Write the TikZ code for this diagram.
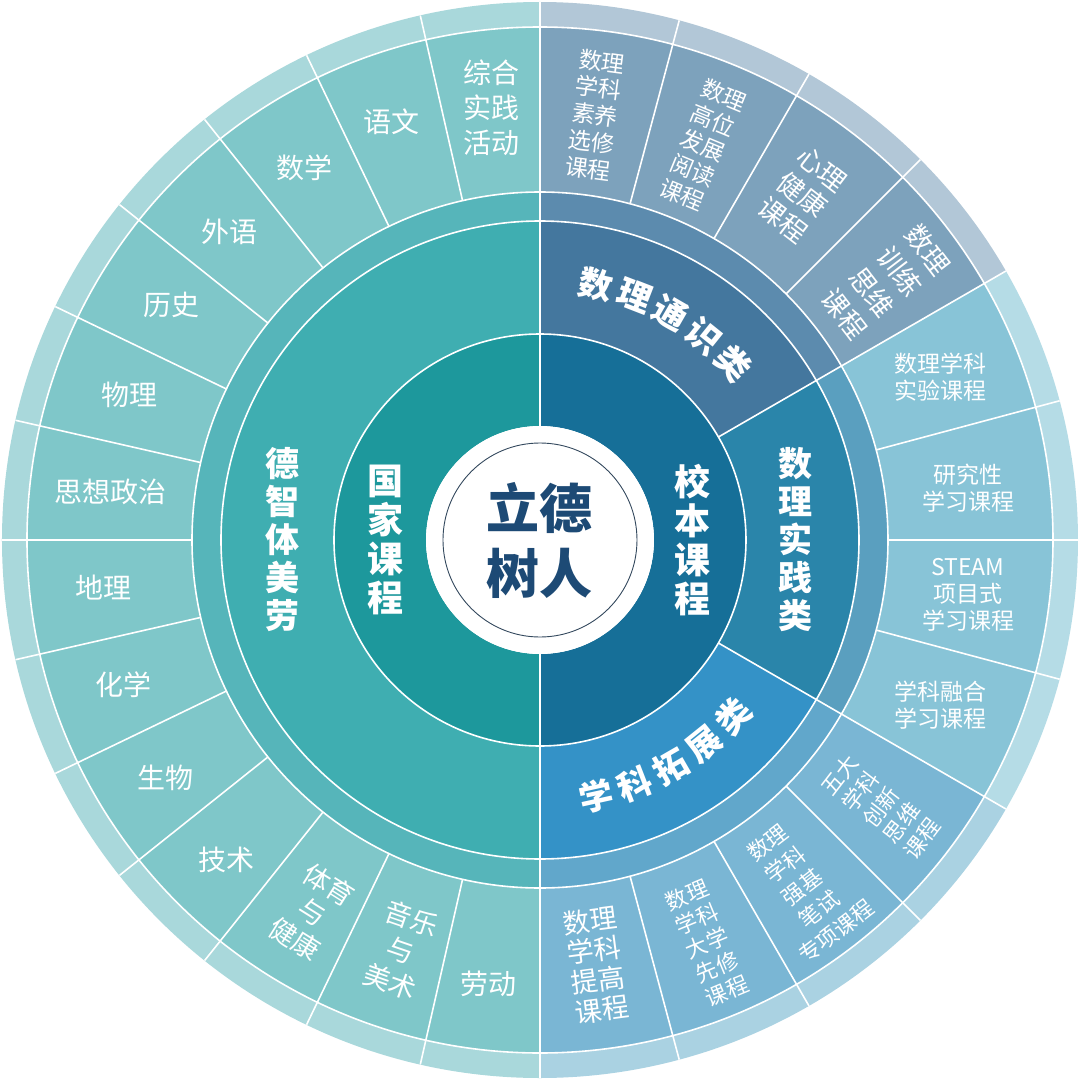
\documentclass[tikz,border=0pt]{standalone}
\usepackage{fontspec}
\setmainfont{Noto Sans CJK SC}
\definecolor{Lband}{HTML}{A9D8DB}
\definecolor{Lsub}{HTML}{7FC7C9}
\definecolor{Lthin}{HTML}{56B5BA}
\definecolor{Lsec}{HTML}{3FAEB1}
\definecolor{Lin}{HTML}{1D989C}
\definecolor{Tband}{HTML}{B2C7D7}
\definecolor{Tsub}{HTML}{7DA2BC}
\definecolor{Tthin}{HTML}{5C8BAE}
\definecolor{Tsec}{HTML}{44779E}
\definecolor{Pband}{HTML}{B5DCE6}
\definecolor{Psub}{HTML}{88C4D7}
\definecolor{Pthin}{HTML}{5A9FBF}
\definecolor{Psec}{HTML}{2A85AA}
\definecolor{Eband}{HTML}{AAD2E2}
\definecolor{Esub}{HTML}{7AB6D4}
\definecolor{Ethin}{HTML}{61A7CB}
\definecolor{Esec}{HTML}{3492C7}
\definecolor{Rin}{HTML}{166F98}
\definecolor{navy}{HTML}{1D4A75}
\definecolor{ringline}{HTML}{34495E}
\newcommand{\ringseg}[5]{\fill[#5] (#3:#1pt) arc[start angle=#3, end angle=#4, radius=#1pt] -- (#4:#2pt) arc[start angle=#4, end angle=#3, radius=#2pt] -- cycle;}
\begin{document}
\begin{tikzpicture}[x=1pt,y=1pt,
  sep/.style={draw=white, line width=1.6pt},
  lab/.style={text=white, inner sep=0pt, align=center, font=\fontsize{28}{35}\selectfont},
  labs/.style={text=white, inner sep=0pt, align=center, font=\fontsize{23}{27}\selectfont},
  big/.style={text=white, inner sep=0pt, align=center, font=\fontsize{34}{38}\selectfont\bfseries},
  arcch/.style={text=white, inner sep=0pt, font=\fontsize{34}{38}\selectfont\bfseries}]
\useasboundingbox (-540,-540) rectangle (540,540);
\fill[white] (-540,-540) rectangle (540,540);
% left half
\ringseg{513}{538}{90}{270}{Lband}
\ringseg{348}{513}{90}{270}{Lsub}
\ringseg{319}{348}{90}{270}{Lthin}
\ringseg{206}{319}{90}{270}{Lsec}
\ringseg{114}{206}{90}{270}{Lin}
% right: general
\ringseg{513}{538}{30}{90}{Tband}
\ringseg{348}{513}{30}{90}{Tsub}
\ringseg{319}{348}{30}{90}{Tthin}
\ringseg{206}{319}{30}{90}{Tsec}
% right: practice
\ringseg{513}{538}{-30}{30}{Pband}
\ringseg{348}{513}{-30}{30}{Psub}
\ringseg{319}{348}{-30}{30}{Pthin}
\ringseg{206}{319}{-30}{30}{Psec}
% right: extension
\ringseg{513}{538}{-90}{-30}{Eband}
\ringseg{348}{513}{-90}{-30}{Esub}
\ringseg{319}{348}{-90}{-30}{Ethin}
\ringseg{206}{319}{-90}{-30}{Esec}
\ringseg{114}{206}{-90}{90}{Rin}
% separators
\foreach \r in {206,319,348,513} \draw[sep] (0,0) circle[radius=\r pt];
\draw[sep] (90:114pt) -- (90:538pt);
\draw[sep] (-90:114pt) -- (-90:538pt);
\foreach \k in {1,...,13} \draw[sep] ({90+\k*180/14}:348pt) -- ({90+\k*180/14}:538pt);
\foreach \a in {75,60,45,15,0,-15,-45,-60,-75} \draw[sep] (\a:348pt) -- (\a:538pt);
\foreach \a in {30,-30} \draw[sep] (\a:206pt) -- (\a:538pt);
% centre
\fill[white] (0,0) circle[radius=114pt];
\draw[ringline, line width=0.9pt] (0,0) circle[radius=97pt];
\node[text=navy, inner sep=0pt, align=center, font=\fontsize{53}{65}\selectfont\bfseries] (core) at (0,0) {立德\\树人};
% inner ring
\node[text=white, inner sep=0pt, align=center, font=\fontsize{36}{39}\selectfont\bfseries] (guojia) at (-154,0) {国\\家\\课\\程};
\node[text=white, inner sep=0pt, align=center, font=\fontsize{36}{39}\selectfont\bfseries] (xiaoben) at (153,0) {校\\本\\课\\程};
% second ring
\node[big] (dezhi) at (-257,0) {德\\智\\体\\美\\劳};
\node[big] (shijian) at (255,0) {数\\理\\实\\践\\类};
\foreach \c [count=\i] in {数,理,通,识,类}
  \node[arcch, rotate={77.6-(\i-1)*8.8-90}] (tong\i) at ({77.6-(\i-1)*8.8}:262pt) {\c};
\foreach \c [count=\i] in {学,科,拓,展,类}
  \node[arcch, rotate={-77.6+(\i-1)*8.8+90}] (tuo\i) at ({-77.6+(\i-1)*8.8}:262pt) {\c};
% left subjects
\node[lab] (s1) at (-48,432) {综合\\实践\\活动};
\node[lab] (s2) at (-148,418) {语文};
\node[lab] (s3) at (-235,372) {数学};
\node[lab] (s4) at (-310,308) {外语};
\node[lab] (s5) at (-368,235) {历史};
\node[lab] (s6) at (-410,145) {物理};
\node[lab] (s7) at (-429,48) {思想政治};
\node[lab] (s8) at (-436,-48) {地理};
\node[lab] (s9) at (-416,-145) {化学};
\node[lab] (s10) at (-374,-238) {生物};
\node[lab] (s11) at (-313,-320) {技术};
\node[lab, font=\fontsize{27}{32}\selectfont, rotate=-32] (s12) at (-228,-372) {体育\\与\\健康};
\node[lab, font=\fontsize{27}{33}\selectfont, rotate=-19] (s13) at (-139,-410) {音乐\\与\\美术};
\node[lab] (s14) at (-51,-444) {劳动};
% general subjects
\node[labs, rotate=-7.5] (g1) at (55,425) {数理\\学科\\素养\\选修\\课程};
\node[labs, rotate=-22.5] (g2) at (163,395) {数理\\高位\\发展\\阅读\\课程};
\node[lab, font=\fontsize{27}{32}\selectfont, rotate=-37.5] (g3) at (262,345) {心理\\健康\\课程};
\node[lab, font=\fontsize{27}{35}\selectfont, rotate=-52.5] (g4) at (346,258) {数理\\训练\\思维\\课程};
% practice subjects
\node[labs] (p1) at (400,163) {数理学科\\实验课程};
\node[labs] (p2) at (428,52) {研究性\\学习课程};
\node[labs] (p3) at (428,-55) {STEAM\\项目式\\学习课程};
\node[labs] (p4) at (400,-165) {学科融合\\学习课程};
% extension subjects
\node[lab, font=\fontsize{27}{30}\selectfont, rotate=7.5] (e1) at (56,-425) {数理\\学科\\提高\\课程};
\node[labs, font=\fontsize{22}{26}\selectfont, rotate=22.5] (e2) at (167,-403) {数理\\学科\\大学\\先修\\课程};
\node[labs, font=\fontsize{22}{28}\selectfont, rotate=37.5] (e3) at (262,-347) {数理\\学科\\强基\\笔试\\专项课程};
\node[labs, font=\fontsize{22}{26}\selectfont, rotate=52.5] (e4) at (341,-267) {五大\\学科\\创新\\思维\\课程};
\end{tikzpicture}
\end{document}
